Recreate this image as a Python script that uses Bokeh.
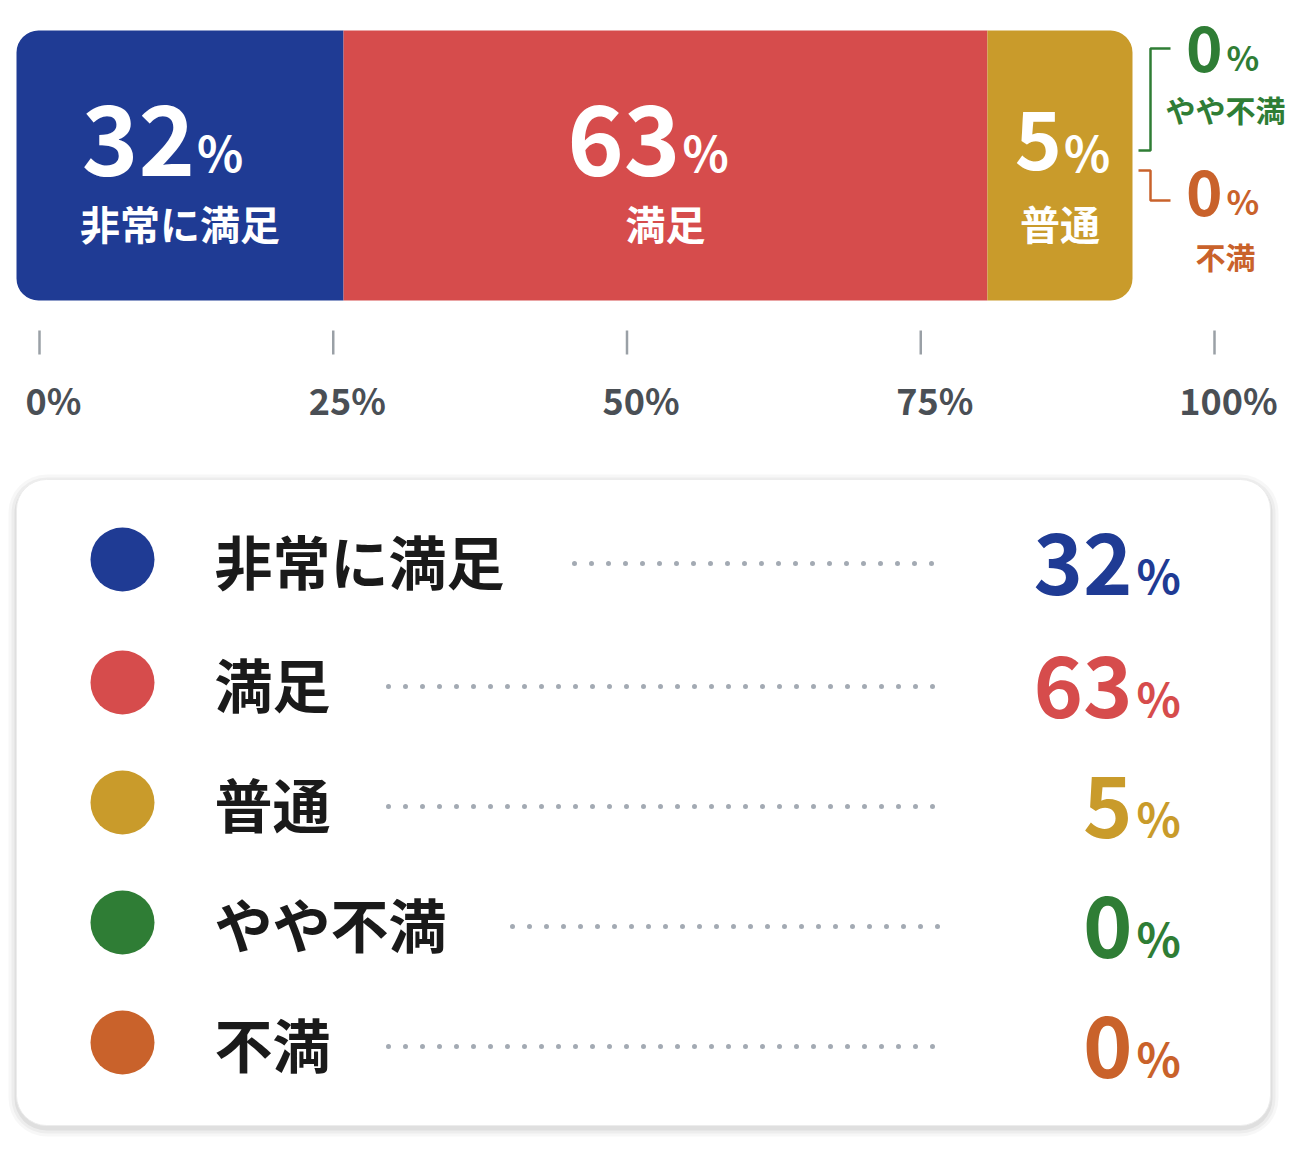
from bokeh.plotting import figure
from bokeh.models import Range1d
from bokeh.embed import file_html
from bokeh.resources import INLINE
from bokeh.core.properties import value

categories = ["非常に満足", "満足", "普通", "やや不満", "不満"]
values = [32, 63, 5, 0, 0]
colors = ["#1f3b94", "#d64c4c", "#c99b2b", "#2f7d35", "#c9622b"]
tick_values = [0, 25, 50, 75, 100]
tick_labels = ["0%", "25%", "50%", "75%", "100%"]

W, H = 1297, 1143
FONT = value("Noto Sans CJK JP")
p = figure(width=W, height=H, x_range=Range1d(0, W), y_range=Range1d(H, 0),
           output_backend="svg", toolbar_location=None, min_border=0)
p.axis.visible = False
p.grid.visible = False
p.outline_line_color = None
p.background_fill_color = "white"

# stacked bar (small segments get a minimum display width so labels fit)
BX0, BX1, BY0, BY1 = 16, 1132, 30, 300
MINW = 13.0
pos = [v for v in values if v > 0]
small = sum(MINW for v in pos if v < MINW)
big_total = sum(v for v in pos if v >= MINW)
def disp(v):
    return MINW if v < MINW else v * (100 - small) / big_total
scale = (BX1 - BX0) / 100.0
cum = 0
shown = [i for i, v in enumerate(values) if v > 0]
for i, v in enumerate(values):
    if v <= 0:
        continue
    w = disp(v)
    l = BX0 + cum * scale
    r = BX0 + (cum + w) * scale
    rad = (0, 0, 0, 0)
    if i == shown[0]:
        rad = (22, 0, 0, 22)
    if i == shown[-1]:
        rad = (0, 22, 22, 0)
    p.quad(left=l, right=r, top=BY0, bottom=BY1, fill_color=colors[i], line_color=None,
           border_radius=rad)
    cx = (l + r) / 2
    big = 96 if v >= 10 else 80
    off = 15 if v >= 10 else 2
    p.text(x=[cx + off], y=[140], text=[str(v)], text_align="right", text_baseline="middle",
           text_font=FONT, text_font_style="bold", text_font_size=f"{big}px", text_color="white")
    p.text(x=[cx + off + 2], y=[150], text=["%"], text_align="left", text_baseline="middle",
           text_font=FONT, text_font_style="bold", text_font_size="48px", text_color="white")
    p.text(x=[cx], y=[222], text=[categories[i]], text_align="center", text_baseline="middle",
           text_font=FONT, text_font_style="bold", text_font_size="40px", text_color="white")
    cum += w

# zero-value annotations on the right
zero_idx = [i for i, v in enumerate(values) if v == 0]
ann_y = [(48, 108), (192, 255)]
for k, i in enumerate(zero_idx[:2]):
    ny, ly = ann_y[k]
    p.text(x=[1222], y=[ny], text=[str(values[i])], text_align="right", text_baseline="middle",
           text_font=FONT, text_font_style="bold", text_font_size="62px", text_color=colors[i])
    p.text(x=[1226], y=[ny + 8], text=["%"], text_align="left", text_baseline="middle",
           text_font=FONT, text_font_style="bold", text_font_size="34px", text_color=colors[i])
    p.text(x=[1225], y=[ly], text=[categories[i]], text_align="center", text_baseline="middle",
           text_font=FONT, text_font_style="bold", text_font_size="30px", text_color=colors[i])
# brackets
p.line(x=[1170, 1150, 1150, 1138], y=[48, 48, 150, 150], line_color=colors[3], line_width=2.5)
p.line(x=[1138, 1150, 1150, 1170], y=[170, 170, 200, 200], line_color=colors[4], line_width=2.5)

# axis
AX0, AX1 = 39, 1214
for t, lab in zip(tick_values, tick_labels):
    x = AX0 + t / 100 * (AX1 - AX0)
    p.segment(x0=[x], y0=[330], x1=[x], y1=[354], line_color="#9aa0a6", line_width=2.5)
    p.text(x=[x + 14], y=[398], text=[lab], text_align="center", text_baseline="middle",
           text_font=FONT, text_font_style="bold", text_font_size="36px", text_color="#4a4f55")

# legend card
for d, a in [(8, 0.03), (5, 0.04), (2, 0.06)]:
    p.quad(left=16 - d, right=1270 + d, top=479 - d + 3, bottom=1125 + d + 3,
           fill_color="#000000", fill_alpha=a, line_color=None, border_radius=30 + d)
p.quad(left=16, right=1270, top=479, bottom=1125, fill_color="white", line_color="#ececec",
       line_width=1, border_radius=30)

row_y = [559, 682, 802, 922, 1042]
for i, (c, v, col, y) in enumerate(zip(categories, values, colors, row_y)):
    p.scatter(x=[122], y=[y], size=64, fill_color=col, line_color=None)
    p.text(x=[214], y=[y], text=[c], text_align="left", text_baseline="middle",
           text_font=FONT, text_font_style="bold", text_font_size="58px", text_color="#1a1a1a")
    x0 = 214 + len(c) * 62 + 50
    p.segment(x0=[x0], y0=[y + 4], x1=[948], y1=[y + 4], line_color="#a3aab3", line_width=5,
              line_dash="0 17", line_cap="round")
    p.text(x=[1132], y=[y + 4], text=[str(v)], text_align="right", text_baseline="middle",
           text_font=FONT, text_font_style="bold", text_font_size="84px", text_color=col)
    p.text(x=[1136], y=[y + 14], text=["%"], text_align="left", text_baseline="middle",
           text_font=FONT, text_font_style="bold", text_font_size="46px", text_color=col)

open("out.html", "w").write(file_html(p, INLINE))
